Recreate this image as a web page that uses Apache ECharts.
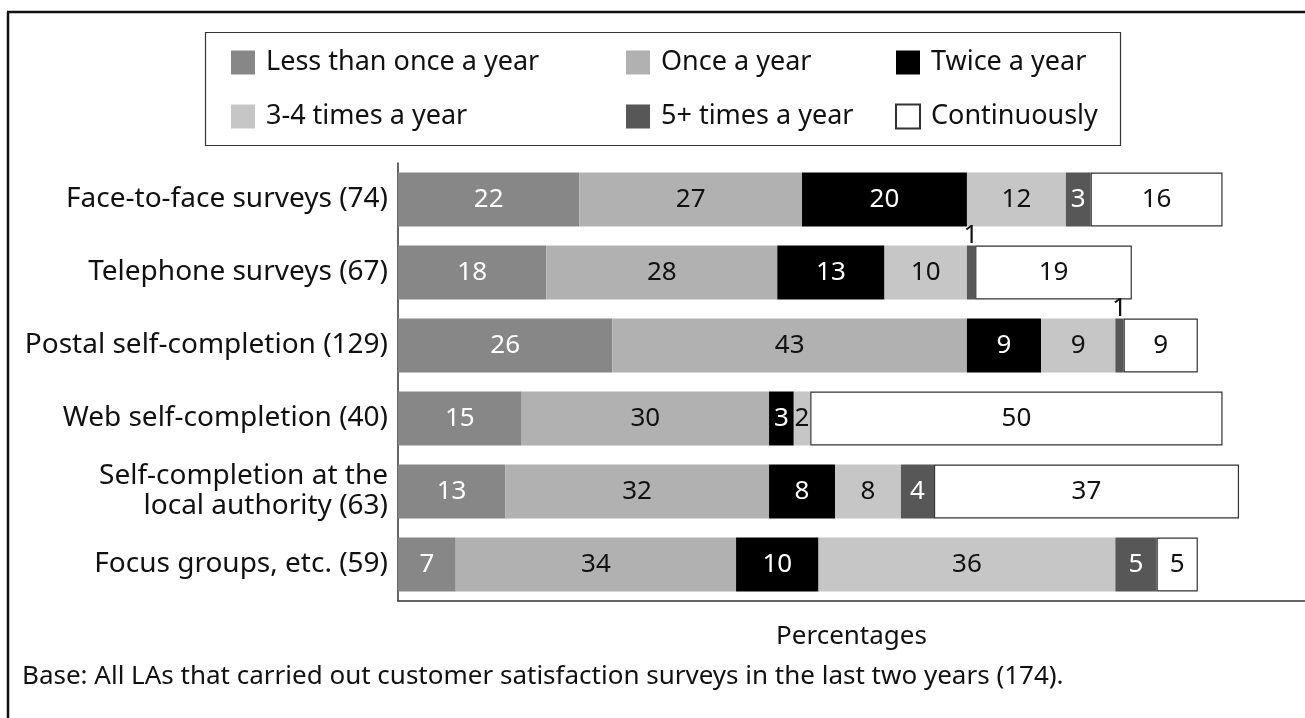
<!DOCTYPE html>
<html>
<head>
<meta charset="utf-8">
<script src="https://cdn.jsdelivr.net/npm/echarts@6/dist/echarts.min.js"></script>
<style>
  html, body { margin: 0; padding: 0; background: #fff; }
  #chart { width: 1305px; height: 718px; }
</style>
</head>
<body>
<div id="chart"></div>
<script>
// Survey methods (rows, top to bottom) and how often each is carried out (%)
const categories = [
  'Face-to-face surveys (74)',
  'Telephone surveys (67)',
  'Postal self-completion (129)',
  'Web self-completion (40)',
  'Self-completion at the\nlocal authority (63)',
  'Focus groups, etc. (59)'
];
const seriesNames = [
  'Less than once a year',
  'Once a year',
  'Twice a year',
  '3-4 times a year',
  '5+ times a year',
  'Continuously'
];
const lessThanOnce = [22, 18, 26, 15, 13, 7];
const onceAYear    = [27, 28, 43, 30, 32, 34];
const twiceAYear   = [20, 13, 9, 3, 8, 10];
const threeToFour  = [12, 10, 9, 2, 8, 36];
const fivePlus     = [3, 1, 1, 0, 4, 5];
const continuously = [16, 19, 9, 50, 37, 5];

const axisName = 'Percentages';
const baseNote = 'Base: All LAs that carried out customer satisfaction surveys in the last two years (174).';

const FONT = '"Noto Sans", sans-serif';
const values = [lessThanOnce, onceAYear, twiceAYear, threeToFour, fivePlus, continuously];
const fills = ['#878787', '#b1b1b1', '#000000', '#c6c6c6', '#575757', '#ffffff'];
const labelColors = ['#fff', '#111', '#fff', '#111', '#fff', '#111'];

// y axis is inverted so the first category sits at the top
const series = values.map((vals, i) => ({
  name: seriesNames[i],
  type: 'bar',
  stack: 'total',
  barWidth: '74%',
  itemStyle: i === 5
    ? { color: fills[i], borderColor: '#333', borderWidth: 1.2 }
    : { color: fills[i] },
  label: {
    show: true,
    position: 'inside',
    color: labelColors[i],
    fontFamily: FONT,
    fontSize: 26,
    formatter: p => (p.value ? String(p.value) : '')
  },
  data: vals.map(v => (v === 1
    ? { value: v, label: { position: 'top', distance: -3, color: '#111' } }
    : v))
}));

const legendCol = (left, names) => ({
  orient: 'vertical',
  left: left,
  top: 44,
  itemWidth: 24,
  itemHeight: 24,
  itemGap: 27,
  icon: 'rect',
  selectedMode: false,
  textStyle: { fontFamily: FONT, fontSize: 27, color: '#111', lineHeight: 24, padding: [0, 0, 0, 6] },
  data: names
});

const chart = echarts.init(document.getElementById('chart'));
chart.setOption({
  animation: false,
  backgroundColor: '#fff',
  legend: [
    legendCol(226, [seriesNames[0], seriesNames[3]]),
    legendCol(621, [seriesNames[1], seriesNames[4]]),
    legendCol(890, [seriesNames[2], seriesNames[5]])
  ],
  grid: { left: 398, top: 163, height: 438, width: 911 },
  xAxis: {
    type: 'value',
    min: 0,
    max: 110,
    axisLine: { show: true, lineStyle: { color: '#333', width: 1.5 } },
    axisTick: { show: false },
    axisLabel: { show: false },
    splitLine: { show: false },
    name: axisName,
    nameLocation: 'middle',
    nameGap: 23,
    nameTextStyle: { fontFamily: FONT, fontSize: 26, color: '#111' }
  },
  yAxis: {
    type: 'category',
    inverse: true,
    data: categories,
    axisLine: { show: true, lineStyle: { color: '#333', width: 1.5 } },
    axisTick: { show: false },
    axisLabel: {
      margin: 10,
      fontFamily: FONT,
      fontSize: 28,
      color: '#111',
      lineHeight: 30,
      align: 'right'
    }
  },
  series: series,
  graphic: [
    // outer frame (left and top edges)
    { type: 'line', shape: { x1: 8, y1: 12, x2: 8, y2: 718 }, style: { stroke: '#111', lineWidth: 2.5 } },
    { type: 'line', shape: { x1: 7, y1: 12, x2: 1305, y2: 12 }, style: { stroke: '#111', lineWidth: 2.5 } },
    // legend box
    { type: 'rect', shape: { x: 205.5, y: 32.5, width: 915, height: 113 }, style: { fill: 'none', stroke: '#333', lineWidth: 1.2 }, z: -1 },
    // base note
    { type: 'text', left: 22, top: 664, style: { text: baseNote, fontFamily: FONT, fontSize: 26, fill: '#111' } }
  ]
});
</script>
</body>
</html>
